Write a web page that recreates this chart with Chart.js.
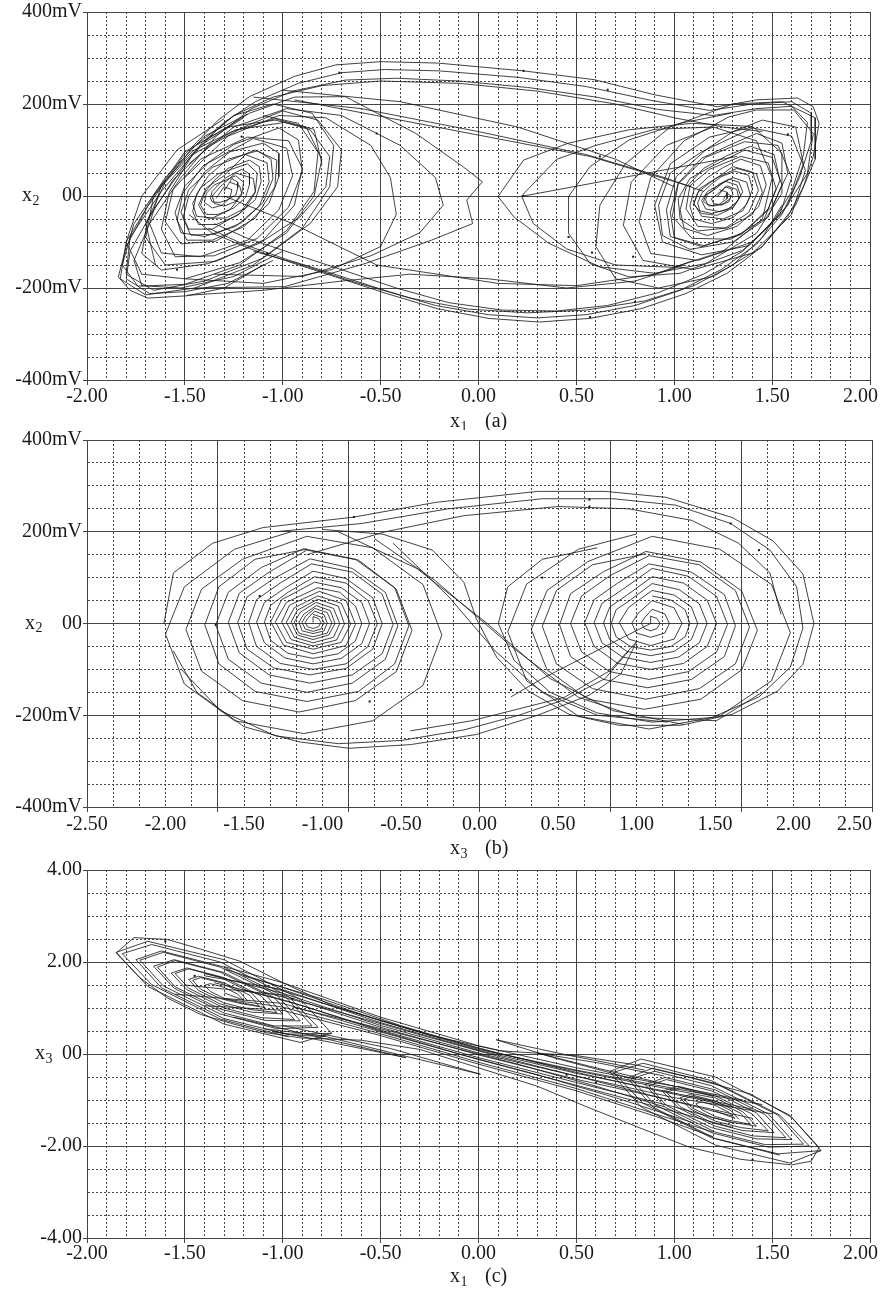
<!DOCTYPE html>
<html><head><meta charset="utf-8">
<script src="https://cdn.jsdelivr.net/npm/chart.js@4/dist/chart.umd.min.js"></script>
<style>
html,body{margin:0;padding:0;background:#fff;}
#wrap{position:relative;width:884px;height:1290px;background:#fff;}
canvas{position:absolute;left:0;}
</style></head><body>
<div id="wrap">
<canvas id="ca" width="884" height="430" style="top:0px"></canvas>
<canvas id="cb" width="884" height="430" style="top:430px"></canvas>
<canvas id="cc" width="884" height="430" style="top:860px"></canvas>
</div>
<script>
// ---------------- tick labels ----------------
const aXTickVals = [-2,-1.5,-1,-0.5,0,0.5,1,1.5,2];
const aXTickLabels = ['-2.00','-1.50','-1.00','-0.50','0.00','0.50','1.00','1.50','2.00'];
const bXTickVals = [-2.5,-2,-1.5,-1,-0.5,0,0.5,1,1.5,2,2.5];
const bXTickLabels = ['-2.50','-2.00','-1.50','-1.00','-0.50','0.00','0.50','1.00','1.50','2.00','2.50'];
const mvTickVals = [-400,-200,0,200,400];
const mvTickLabels = ['-400mV','-200mV','00','200mV','400mV'];
const cYTickVals = [-4,-2,0,2,4];
const cYTickLabels = ['-4.00','-2.00','00','2.00','4.00'];

// ---------------- panel (a): x1 vs x2 [mV] ----------------
const aLeftSpiral1 = [[-1.30,10],[-1.26,38],[-1.23,30],[-1.23,18],[-1.24,2],[-1.28,-8],[-1.32,-14],[-1.36,-13],[-1.37,-4],[-1.36,10],[-1.33,24],
 [-1.29,40],[-1.21,58],[-1.17,48],[-1.17,25],[-1.19,-3],[-1.25,-26],[-1.33,-40],[-1.39,-40],[-1.42,-20],[-1.40,6],[-1.35,34],
 [-1.28,60],[-1.17,78],[-1.12,64],[-1.11,32],[-1.14,-8],[-1.23,-42],[-1.34,-62],[-1.43,-62],[-1.46,-34],[-1.44,4],[-1.38,44],
 [-1.28,80],[-1.13,98],[-1.06,80],[-1.05,38],[-1.10,-14],[-1.21,-58],[-1.35,-83],[-1.47,-85],[-1.51,-48],[-1.48,0],[-1.40,52],
 [-1.27,96],[-1.10,115],[-1.02,93],[-1.02,42],[-1.07,-16],[-1.20,-67],[-1.36,-96],[-1.49,-96],[-1.54,-52],[-1.51,6],[-1.41,64],
 [-1.25,112],[-1.02,148],[-0.92,122],[-0.90,54],[-0.97,-24],[-1.13,-92],[-1.35,-130],[-1.55,-132],[-1.62,-72],[-1.58,8],[-1.46,90],
 [-1.24,144],[-0.99,160],[-0.86,144],[-0.76,86],[-0.78,20],[-0.91,-45],[-1.12,-103],[-1.38,-147],[-1.62,-161],[-1.72,-125],[-1.69,-52],[-1.56,35],[-1.38,107],[-1.20,150],
 [-1.00,185],[-0.82,165],[-0.70,100],[-0.72,20],[-0.86,-60],[-1.10,-135],[-1.40,-185],[-1.66,-205],[-1.80,-170],[-1.78,-90],[-1.62,10],[-1.42,110],[-1.20,170]];
const aLeftSpiral2 = [[-1.34,-5],[-1.30,20],[-1.26,14],[-1.27,-4],[-1.31,-20],[-1.36,-26],[-1.40,-14],[-1.39,6],[-1.35,24],
 [-1.24,44],[-1.20,30],[-1.21,2],[-1.27,-30],[-1.36,-48],[-1.44,-44],[-1.46,-16],[-1.42,18],[-1.33,48],
 [-1.18,70],[-1.13,50],[-1.14,10],[-1.22,-38],[-1.36,-72],[-1.48,-72],[-1.52,-36],[-1.48,14],[-1.36,62],
 [-1.14,100],[-1.03,78],[-1.04,20],[-1.14,-48],[-1.34,-98],[-1.52,-104],[-1.60,-56],[-1.56,14],[-1.42,80],
 [-1.18,128],[-0.97,120],[-0.90,60],[-0.94,-20],[-1.10,-96],[-1.34,-142],[-1.60,-150],[-1.70,-90],[-1.66,0],[-1.50,96],
 [-1.28,150],[-1.04,165],[-0.84,145],[-0.80,70]];
const aLeftSpiral3 = [[-1.27,30],[-1.22,22],[-1.21,6],[-1.24,-12],[-1.30,-22],[-1.35,-16],[-1.36,0],[-1.32,20],
 [-1.24,50],[-1.15,38],[-1.14,8],[-1.19,-26],[-1.29,-48],[-1.39,-48],[-1.43,-20],[-1.39,18],[-1.30,44],
 [-1.19,90],[-1.08,72],[-1.07,30],[-1.12,-22],[-1.24,-66],[-1.40,-88],[-1.52,-80],[-1.55,-36],[-1.50,22],[-1.38,72],
 [-1.15,125],[-0.98,104],[-0.95,44],[-1.02,-30],[-1.18,-96],[-1.42,-132],[-1.62,-124],[-1.68,-60],[-1.62,24],[-1.46,98],[-1.26,140],
 [-1.04,168],[-0.88,150],[-0.80,80],[-0.84,0],[-0.98,-80],[-1.22,-145],[-1.50,-180],[-1.72,-170],[-1.80,-100],[-1.72,0],[-1.54,100],[-1.30,168]];
const aLeftBig1 = [[-1.05,200],[-0.85,180],[-0.74,110],[-0.76,20],[-0.90,-70],[-1.15,-150],[-1.45,-200],[-1.70,-215],[-1.83,-180],[-1.80,-100],[-1.66,0],[-1.46,105],[-1.25,175],[-1.05,200]];
const aLeftBig2 = [[-1.10,175],[-0.92,158],[-0.82,95],[-0.84,10],[-0.98,-75],[-1.22,-150],[-1.50,-192],[-1.74,-196],[-1.82,-150],[-1.76,-60],[-1.60,40],[-1.40,130],[-1.18,178]];
const aRightSpiral1 = [[1.22,-2],[1.26,20],[1.29,16],[1.30,4],[1.28,-8],[1.25,-17],[1.20,-22],[1.17,-18],[1.16,-8],[1.17,4],[1.20,14],
 [1.23,26],[1.28,37],[1.33,30],[1.35,9],[1.32,-13],[1.27,-30],[1.19,-38],[1.13,-32],[1.12,-15],[1.14,6],[1.19,26],
 [1.24,42],[1.31,54],[1.38,45],[1.40,15],[1.37,-18],[1.30,-47],[1.19,-60],[1.10,-50],[1.08,-22],[1.10,12],[1.17,40],
 [1.25,62],[1.34,80],[1.44,66],[1.47,24],[1.43,-24],[1.32,-66],[1.17,-86],[1.05,-70],[1.03,-30],[1.06,18],[1.15,60],
 [1.27,88],[1.39,108],[1.51,90],[1.54,34],[1.48,-28],[1.34,-84],[1.15,-108],[1.00,-90],[0.98,-36],[1.02,28],[1.14,82],
 [1.29,112],[1.42,136],[1.55,115],[1.58,49],[1.50,-23],[1.35,-81],[1.14,-110],[0.98,-88],[0.96,-30],[1.01,42],[1.16,100],
 [1.30,140],[1.45,165],[1.62,150],[1.66,70],[1.58,-20],[1.40,-100],[1.12,-140],[0.88,-125],[0.82,-55],[0.88,40],[1.05,120],
 [1.28,172],[1.42,187],[1.61,187],[1.71,136],[1.68,49],[1.55,-38],[1.35,-118],[1.03,-168],[0.77,-176],[0.57,-147],[0.46,-81],[0.46,-1],[0.57,64],[0.77,122],[1.03,158],[1.29,180]];
const aRightSpiral2 = [[1.25,-8],[1.27,6],[1.29,0],[1.28,-12],[1.24,-20],[1.20,-16],[1.19,-6],[1.22,4],
 [1.27,22],[1.32,14],[1.33,-6],[1.30,-24],[1.23,-34],[1.16,-28],[1.14,-10],[1.17,10],[1.22,22],
 [1.30,40],[1.37,30],[1.39,0],[1.35,-32],[1.25,-50],[1.14,-44],[1.10,-16],[1.13,16],[1.21,38],
 [1.32,60],[1.42,48],[1.45,8],[1.40,-40],[1.27,-70],[1.12,-66],[1.06,-28],[1.08,22],[1.18,58],
 [1.34,86],[1.48,72],[1.52,16],[1.46,-50],[1.29,-94],[1.09,-92],[0.99,-44],[1.02,26],[1.16,84],
 [1.36,118],[1.53,110],[1.60,40],[1.54,-40],[1.38,-108],[1.14,-128],[0.94,-100],[0.90,-20],[0.98,70],[1.18,128],[1.40,150]];
const aRightSpiral3 = [[1.23,14],[1.27,8],[1.27,-6],[1.23,-18],[1.18,-22],[1.15,-12],[1.16,2],[1.20,12],
 [1.26,32],[1.32,24],[1.34,0],[1.30,-26],[1.22,-42],[1.14,-38],[1.10,-18],[1.12,8],[1.18,28],
 [1.30,64],[1.40,52],[1.43,12],[1.38,-36],[1.26,-70],[1.12,-76],[1.03,-50],[1.02,-6],[1.08,38],[1.18,62],
 [1.36,100],[1.50,84],[1.55,24],[1.48,-46],[1.30,-100],[1.08,-116],[0.94,-86],[0.92,-20],[0.98,50],[1.14,96],
 [1.40,148],[1.60,130],[1.67,56],[1.60,-40],[1.40,-124],[1.10,-160],[0.84,-140],[0.74,-64],[0.78,30],[0.96,110],[1.20,150]];
const aRightBig1 = [[1.30,200],[1.55,205],[1.72,170],[1.72,80],[1.62,-20],[1.45,-110],[1.20,-175],[0.92,-200],[0.70,-180],[0.60,-110],[0.62,-20],[0.75,70],[0.98,150],[1.30,200]];
const aOuter1 = [[-1.10,-150],[-1.30,-200],[-1.49,-217],[-1.69,-222],[-1.78,-205],[-1.84,-176],[-1.80,-110],[-1.69,-23],[-1.51,86],[-1.33,165],[-1.17,216],[-0.94,260],[-0.73,285],[-0.50,292],[-0.21,289],[0.23,272],[0.59,253],[0.90,220],[1.22,194],[1.42,209],[1.63,213],[1.71,194],[1.74,158],[1.71,86],[1.66,20],[1.58,-45],[1.45,-110],[1.27,-168],[1.06,-212],[0.83,-245],[0.57,-266],[0.31,-274],[0.05,-266],[-0.21,-245],[-0.47,-212],[-0.73,-176],[-0.94,-147],[-1.17,-114],[-1.36,-81],[-1.48,-40]];
const aOuter2 = [[-1.05,-140],[-1.28,-190],[-1.50,-208],[-1.68,-212],[-1.80,-180],[-1.78,-120],[-1.66,-30],[-1.48,80],[-1.30,160],[-1.14,205],[-0.92,245],[-0.70,268],[-0.48,275],[-0.20,272],[0.20,258],[0.55,238],[0.88,208],[1.18,186],[1.40,200],[1.60,205],[1.70,180],[1.70,120],[1.64,40],[1.55,-40],[1.42,-105],[1.24,-160],[1.03,-205],[0.80,-238],[0.55,-258],[0.30,-265],[0.05,-258],[-0.22,-238],[-0.48,-205],[-0.75,-168],[-0.98,-138],[-1.20,-105],[-1.38,-70]];
const aOuter3 = [[-1.00,-120],[-1.25,-175],[-1.52,-200],[-1.72,-195],[-1.76,-140],[-1.68,-60],[-1.52,40],[-1.34,130],[-1.16,190],[-0.95,228],[-0.68,252],[-0.42,256],[-0.10,250],[0.25,236],[0.60,215],[0.92,188],[1.20,175],[1.42,190],[1.60,195],[1.68,160],[1.66,90],[1.60,10],[1.50,-60],[1.35,-120],[1.15,-170],[0.92,-210],[0.66,-238],[0.40,-250],[0.12,-248],[-0.15,-232],[-0.42,-200],[-0.70,-160],[-0.95,-125],[-1.18,-92],[-1.35,-60]];
const aTopBand = [[-1.40,120],[-1.25,175],[-1.05,215],[-0.80,240],[-0.50,250],[-0.10,245],[0.30,228],[0.70,200],[1.00,170],[1.25,150],[1.45,140]];
const aBottomBand = [[1.55,-20],[1.45,-90],[1.30,-150],[1.10,-195],[0.85,-228],[0.55,-248],[0.25,-254],[-0.05,-246],[-0.35,-222],[-0.65,-185],[-0.90,-150],[-1.15,-120]];
const aLeftExt1 = [[-1.45,-200],[-0.99,-197],[-0.58,-147],[-0.24,-96],[-0.03,-60],[-0.06,-9],[0.02,31],[-0.08,64],[-0.32,136],[-0.68,216],[-0.94,215],[-1.17,180],[-1.40,120],[-1.60,30],[-1.70,-60],[-1.65,-150]];
const aLeftExt2 = [[-1.35,-170],[-0.90,-175],[-0.55,-130],[-0.30,-80],[-0.18,-20],[-0.22,40],[-0.40,110],[-0.70,175],[-0.98,190],[-1.25,150],[-1.48,70]];
const aLeftExt3 = [[-1.50,-180],[-1.10,-190],[-0.75,-160],[-0.50,-110],[-0.42,-40],[-0.45,40],[-0.55,110],[-0.78,170],[-1.02,175],[-1.28,130],[-1.50,40]];
const aRightExt1 = [[0.23,78],[0.10,-1],[0.18,-45],[0.36,-103],[0.62,-154],[0.90,-168],[1.16,-147],[1.42,-81],[1.55,6],[1.55,93],[1.40,151],[1.09,158],[0.77,144],[0.46,115],[0.23,78]];
const aRightExt2 = [[0.40,80],[0.22,0],[0.28,-60],[0.45,-115],[0.70,-150],[1.00,-155],[1.25,-120],[1.45,-50],[1.50,40],[1.42,120],[1.20,150],[0.90,145],[0.60,110],[0.40,80]];
const aCross1 = [[-1.30,0],[-0.95,-60],[-0.52,-150],[0.10,-190],[0.50,-195],[0.90,-170],[1.10,-140]];
const aCross2 = [[-1.15,215],[-0.60,190],[0.00,140],[0.55,90],[0.95,40],[1.15,10]];
const aCross3 = [[-1.00,230],[-0.40,205],[0.20,150],[0.70,80],[1.00,20]];
const aCross4 = [[-1.49,-216],[-1.10,-205],[-0.70,-185],[-0.35,-170],[0.05,-180],[0.45,-200],[0.80,-185],[1.05,-150]];
const aCross5 = [[-0.94,209],[0.57,86],[1.09,20]];
const aStart = [[0.23,0],[1.32,86]];
const aMarks = [[-0.71,268],[0.23,272],[0.66,231],[-0.52,136],[0.57,-263],[0.80,-230],[0.46,-89],[0.58,-123],[0.79,-132],[-0.52,-152],[0.23,0],[1.58,134],[0.62,86],[-1.21,129],[-1.08,-125],[-1.54,-160]];

// ---------------- panel (b): x3 vs x2 [mV] ----------------
const bLeftSpiral1 = [[-1.06,2],
 [-1.06,15],[-1.025,11],[-1.01,2],[-1.025,-7],[-1.06,-11],[-1.095,-7],[-1.11,2],[-1.095,11],
 [-1.05,27],[-0.99,19],[-0.97,1],[-0.99,-16],[-1.06,-22],[-1.13,-16],[-1.15,3],[-1.12,20],
 [-1.04,39],[-0.95,28],[-0.92,0],[-0.96,-25],[-1.06,-35],[-1.16,-25],[-1.20,3],[-1.16,29],
 [-1.03,53],[-0.90,38],[-0.86,-1],[-0.91,-36],[-1.06,-49],[-1.20,-35],[-1.26,3],[-1.21,40],
 [-1.02,70],[-0.85,50],[-0.79,-2],[-0.85,-48],[-1.06,-66],[-1.25,-47],[-1.33,4],[-1.26,52],
 [-1.05,90],[-0.88,78],[-0.75,46],[-0.70,0],[-0.75,-44],[-0.88,-76],[-1.06,-88],[-1.24,-75],[-1.37,-42],[-1.42,3],[-1.37,46],[-1.24,77],
 [-1.06,114],[-0.85,98],[-0.68,56],[-0.62,0],[-0.68,-56],[-0.85,-98],[-1.08,-112],[-1.31,-97],[-1.48,-56],[-1.54,2],[-1.48,58],[-1.31,98],
 [-1.08,141],[-0.81,120],[-0.60,68],[-0.52,-5],[-0.60,-78],[-0.81,-130],[-1.10,-150],[-1.39,-130],[-1.60,-78],[-1.68,-3],[-1.60,68],[-1.39,122],
 [-1.12,163],[-0.79,140],[-0.53,75],[-0.43,-15],[-0.53,-105],[-0.79,-168],[-1.15,-193],[-1.51,-168],[-1.77,-104],[-1.87,-13],[-1.77,75],[-1.51,140],
 [-1.10,190],[-0.68,165],[-0.36,85],[-0.24,-25],[-0.36,-135],[-0.68,-212],[-1.12,-240],[-1.56,-212],[-1.88,-132],[-2.00,-23],[-1.88,80],[-1.56,162],[-1.20,200]];
const bLeftSpiral2 = [[-1.06,20],[-1.01,14],[-0.99,2],[-1.01,-12],[-1.06,-17],[-1.11,-12],[-1.13,2],[-1.11,15],
 [-1.05,33],[-0.97,24],[-0.94,1],[-0.97,-21],[-1.06,-29],[-1.15,-21],[-1.18,3],[-1.14,25],
 [-1.04,46],[-0.93,33],[-0.89,0],[-0.93,-30],[-1.06,-42],[-1.18,-30],[-1.23,3],[-1.18,34],
 [-1.03,60],[-0.88,44],[-0.82,-1],[-0.88,-41],[-1.06,-56],[-1.23,-41],[-1.30,4],[-1.23,46],
 [-1.03,78],[-0.89,68],[-0.79,38],[-0.75,0],[-0.79,-38],[-0.90,-66],[-1.06,-76],[-1.22,-65],[-1.33,-37],[-1.37,3],[-1.33,40],[-1.22,68],
 [-1.05,102],[-0.85,88],[-0.71,50],[-0.65,0],[-0.71,-50],[-0.85,-88],[-1.06,-100],[-1.27,-87],[-1.42,-50],[-1.47,2],[-1.42,52],[-1.27,88],
 [-1.07,130],[-0.81,112],[-0.62,64],[-0.55,-2],[-0.62,-66],[-0.81,-112],[-1.08,-130],[-1.34,-112],[-1.53,-64],[-1.60,2],[-1.53,66],[-1.34,112],
 [-1.10,160],[-0.77,138],[-0.54,78],[-0.45,-5],[-0.54,-88],[-0.77,-148],[-1.10,-170],[-1.43,-148],[-1.66,-88],[-1.75,-3],[-1.66,80],[-1.43,140],[-1.10,162]];
const bRightSpiral1 = [[1.09,0],
 [1.09,16],[1.13,11],[1.15,0],[1.13,-11],[1.09,-16],[1.05,-11],[1.03,1],[1.05,12],
 [1.10,31],[1.18,21],[1.21,0],[1.18,-21],[1.09,-30],[1.00,-21],[0.97,1],[1.01,22],
 [1.10,50],[1.24,34],[1.29,0],[1.24,-34],[1.09,-48],[0.95,-34],[0.89,2],[0.95,35],
 [1.10,72],[1.24,62],[1.35,36],[1.39,0],[1.35,-35],[1.24,-61],[1.09,-70],[0.94,-61],[0.83,-35],[0.79,1],[0.83,36],[0.94,62],
 [1.10,102],[1.30,88],[1.45,51],[1.51,0],[1.45,-50],[1.30,-87],[1.09,-100],[0.88,-87],[0.73,-50],[0.67,2],[0.73,52],[0.88,88],
 [1.08,130],[1.35,112],[1.56,63],[1.63,-5],[1.56,-72],[1.35,-122],[1.07,-140],[0.79,-122],[0.58,-72],[0.51,-3],[0.58,65],[0.79,113],
 [1.06,157],[1.41,134],[1.67,71],[1.77,-15],[1.67,-101],[1.41,-165],[1.05,-187],[0.69,-165],[0.43,-101],[0.33,-13],[0.43,72],[0.69,135],
 [1.10,190],[1.53,162],[1.86,85],[1.98,-20],[1.86,-125],[1.53,-202],[1.08,-230],[0.63,-202],[0.30,-125],[0.18,-18],[0.30,86],[0.63,162],[1.00,195]];
const bRightSpiral2 = [[1.10,60],[1.22,51],[1.31,30],[1.34,0],[1.31,-29],[1.22,-50],[1.09,-58],[0.96,-50],[0.87,-29],[0.84,1],[0.87,30],[0.96,51],
 [1.10,87],[1.27,74],[1.40,43],[1.45,0],[1.40,-42],[1.27,-73],[1.09,-85],[0.91,-73],[0.78,-42],[0.73,2],[0.78,44],[0.91,74],
 [1.10,120],[1.33,103],[1.51,59],[1.58,-2],[1.51,-62],[1.33,-105],[1.08,-122],[0.83,-105],[0.65,-62],[0.58,0],[0.65,60],[0.83,104],
 [1.08,148],[1.40,128],[1.63,72],[1.72,-8],[1.63,-88],[1.40,-142],[1.06,-165],[0.72,-142],[0.49,-88],[0.40,-6],[0.49,72],[0.72,128],[1.06,152]];
const bOuter1 = [[-2.01,0],[-1.95,110],[-1.70,175],[-1.38,209],[-0.80,232],[-0.28,264],[0.37,288],[0.80,288],[1.19,275],[1.61,231],[1.87,180],[2.06,108],[2.13,0],[2.06,-89],[1.90,-147],[1.61,-198],[1.28,-222],[0.89,-222],[0.57,-198],[0.31,-147],[0.11,-74],[-0.02,10],[-0.10,90],[-0.30,160],[-0.62,195],[-1.00,205]];
const bOuter2 = [[-1.95,-60],[-1.80,-150],[-1.50,-225],[-1.15,-258],[-0.83,-272],[-0.44,-264],[-0.02,-242],[0.37,-200],[0.70,-156],[0.90,-110],[1.00,-40]];
const bOuter3 = [[-1.30,200],[-0.75,218],[-0.20,250],[0.40,272],[0.85,272],[1.25,258],[1.60,218],[1.85,160],[2.02,80],[2.06,-10],[1.98,-95],[1.78,-160],[1.48,-205],[1.10,-215],[0.75,-195],[0.45,-150],[0.22,-80],[0.12,0],[0.18,80],[0.40,140],[0.75,165]];
const bOuter4 = [[-1.90,-100],[-1.65,-190],[-1.30,-245],[-0.90,-262],[-0.50,-255],[-0.10,-232],[0.25,-200],[0.55,-165],[0.80,-120],[0.95,-60]];
const bOuter5 = [[-1.10,150],[-0.60,200],[-0.10,235],[0.50,255],[0.95,250],[1.35,225],[1.65,175],[1.85,110],[1.92,20]];
const bCross1 = [[-0.67,185],[-0.28,93],[0.21,-52],[0.63,-161],[1.02,-205],[1.51,-212],[1.80,-150]];
const bCross2 = [[-0.90,200],[-0.40,120],[0.05,0],[0.45,-120],[0.85,-190],[1.30,-220]];
const bCross3 = [[-0.44,-234],[-0.05,-212],[0.54,-161],[0.83,-103],[1.00,-40]];
const bCross4 = [[-0.55,175],[-0.20,60],[0.10,-60],[0.40,-150],[0.75,-200],[1.20,-215]];
const bStart = [[1.09,0],[0.80,-50],[0.40,-120],[0.20,-160]];
const bMarks = [[-0.80,232],[0.70,270],[0.70,255],[1.60,218],[1.78,160],[-1.40,60],[-0.70,-170],[0.20,-145],[0.40,100],[-1.68,-3]];

// ---------------- panel (c): x1 vs x3 ----------------
const cLeftSpiral1 = [[-1.30,1.33],
 [-1.20,1.17],[-1.23,1.30],[-1.30,1.45],[-1.37,1.53],[-1.40,1.49],[-1.37,1.36],[-1.30,1.21],[-1.23,1.13],
 [-1.12,1.04],[-1.17,1.28],[-1.30,1.55],[-1.43,1.69],[-1.48,1.62],[-1.43,1.38],[-1.30,1.11],[-1.17,0.97],
 [-1.03,0.90],[-1.11,1.26],[-1.30,1.66],[-1.49,1.87],[-1.57,1.76],[-1.49,1.40],[-1.30,1.00],[-1.11,0.79],
 [-0.94,0.75],[-1.045,1.23],[-1.30,1.77],[-1.555,2.05],[-1.66,1.91],[-1.555,1.43],[-1.30,0.89],[-1.045,0.61],
 [-0.85,0.61],[-0.98,1.22],[-1.30,1.89],[-1.62,2.24],[-1.75,2.05],[-1.62,1.44],[-1.30,0.77],[-0.98,0.43],
 [-0.75,0.45],[-0.91,1.19],[-1.30,2.05],[-1.69,2.45],[-1.85,2.21],[-1.69,1.47],[-1.30,0.65],[-0.91,0.25],[-0.75,0.45]];
const cLeftSpiral2 = [[-1.18,1.16],[-1.22,1.35],[-1.32,1.555],[-1.42,1.66],[-1.46,1.60],[-1.42,1.41],[-1.32,1.205],[-1.22,1.10],
 [-1.09,1.01],[-1.16,1.33],[-1.32,1.67],[-1.48,1.85],[-1.55,1.75],[-1.48,1.43],[-1.32,1.09],[-1.16,0.91],
 [-1.00,0.87],[-1.09,1.30],[-1.32,1.78],[-1.55,2.03],[-1.64,1.89],[-1.55,1.46],[-1.32,0.98],[-1.09,0.73],
 [-0.91,0.72],[-1.03,1.28],[-1.32,1.89],[-1.61,2.21],[-1.73,2.04],[-1.61,1.48],[-1.32,0.87],[-1.03,0.55],
 [-0.82,0.58],[-0.97,1.25],[-1.32,2.00],[-1.67,2.38],[-1.82,2.18],[-1.67,1.51],[-1.32,0.76],[-0.97,0.37]];
const cRightSpiral1 = [[1.21,-1.24],
 [1.31,-1.40],[1.28,-1.27],[1.21,-1.12],[1.14,-1.04],[1.11,-1.08],[1.14,-1.21],[1.21,-1.36],[1.28,-1.44],
 [1.39,-1.53],[1.34,-1.29],[1.21,-1.02],[1.08,-0.88],[1.03,-0.95],[1.08,-1.19],[1.21,-1.46],[1.34,-1.60],
 [1.48,-1.67],[1.40,-1.31],[1.21,-0.91],[1.02,-0.70],[0.94,-0.81],[1.02,-1.17],[1.21,-1.57],[1.40,-1.78],
 [1.57,-1.82],[1.465,-1.32],[1.21,-0.78],[0.955,-0.51],[0.85,-0.66],[0.955,-1.16],[1.21,-1.70],[1.465,-1.97],
 [1.66,-1.96],[1.53,-1.33],[1.21,-0.64],[0.89,-0.31],[0.76,-0.52],[0.89,-1.15],[1.21,-1.84],[1.53,-2.17],
 [1.75,-2.10],[1.59,-1.33],[1.21,-0.50],[0.83,-0.11],[0.67,-0.38],[0.83,-1.15],[1.21,-1.98],[1.59,-2.37],[1.75,-2.10]];
const cRightSpiral2 = [[1.33,-1.42],[1.29,-1.23],[1.19,-1.025],[1.09,-0.92],[1.05,-0.98],[1.09,-1.17],[1.19,-1.375],[1.29,-1.48],
 [1.42,-1.57],[1.35,-1.255],[1.19,-0.91],[1.03,-0.735],[0.96,-0.83],[1.03,-1.145],[1.19,-1.49],[1.35,-1.665],
 [1.51,-1.71],[1.42,-1.28],[1.19,-0.80],[0.96,-0.555],[0.87,-0.69],[0.96,-1.12],[1.19,-1.60],[1.42,-1.845],
 [1.60,-1.86],[1.48,-1.30],[1.19,-0.69],[0.90,-0.375],[0.78,-0.54],[0.90,-1.10],[1.19,-1.71],[1.48,-2.025],
 [1.69,-2.00],[1.54,-1.33],[1.19,-0.58],[0.84,-0.20],[0.69,-0.40],[0.84,-1.07],[1.19,-1.82],[1.54,-2.20]];
const cBand1 = [[-1.30,1.90],[-1.00,1.55],[-0.50,0.80],[0.00,0.18],[0.50,-0.30],[1.00,-0.70],[1.35,-1.00]];
const cBand2 = [[-1.40,1.70],[-1.00,1.40],[-0.50,0.68],[0.00,0.08],[0.50,-0.42],[1.00,-0.85],[1.40,-1.20]];
const cBand3 = [[-1.50,1.50],[-1.00,1.28],[-0.50,0.58],[0.00,-0.02],[0.50,-0.55],[1.00,-1.02],[1.40,-1.40]];
const cBand4 = [[-1.55,1.30],[-1.00,1.10],[-0.50,0.48],[0.00,-0.12],[0.50,-0.68],[1.00,-1.25],[1.30,-1.60]];
const cBand5 = [[-1.40,1.05],[-1.00,0.95],[-0.50,0.40],[0.00,-0.22],[0.50,-0.80],[0.90,-1.35],[1.20,-1.80]];
const cBand6 = [[1.45,-1.10],[1.00,-0.75],[0.50,-0.35],[0.00,0.10],[-0.50,0.72],[-1.00,1.45],[-1.30,1.85]];
const cBand7 = [[1.50,-1.30],[1.00,-0.95],[0.50,-0.48],[0.00,0.02],[-0.50,0.62],[-1.00,1.32],[-1.40,1.75]];
const cBand8 = [[1.30,-1.50],[1.00,-1.15],[0.50,-0.62],[0.00,-0.08],[-0.50,0.52],[-1.00,1.18],[-1.35,1.55]];
const cBand9 = [[1.20,-1.70],[0.90,-1.30],[0.50,-0.75],[0.00,-0.18],[-0.50,0.44],[-1.00,1.02],[-1.30,1.20]];
const cBand10 = [[-1.20,1.70],[-0.80,1.20],[-0.40,0.62],[0.00,0.12],[0.40,-0.28],[0.80,-0.62],[1.20,-0.95]];
const cBand11 = [[-1.10,1.35],[-0.70,0.90],[-0.30,0.42],[0.10,-0.05],[0.50,-0.48],[0.90,-0.92],[1.30,-1.35]];
const cBand12 = [[1.30,-1.15],[0.90,-0.78],[0.50,-0.40],[0.10,0.02],[-0.30,0.48],[-0.70,0.98],[-1.10,1.50]];
const cBand13 = [[1.10,-1.50],[0.70,-0.95],[0.30,-0.45],[-0.10,0.00],[-0.50,0.50],[-0.90,1.05],[-1.20,1.40]];
const cBand14 = [[-0.95,1.02],[-0.60,0.66],[-0.20,0.22],[0.20,-0.22],[0.60,-0.70],[0.95,-1.15]];
const cOuter = [[-1.85,2.20],[-1.76,2.53],[-1.59,2.49],[-1.42,2.28],[-1.22,2.02],[-1.00,1.55],[-0.74,1.04],[-0.49,0.72],[-0.23,0.39],[0.11,0.07],[0.51,-0.04],[0.82,-0.25],[1.08,-0.51],[1.39,-0.87],[1.60,-1.38],[1.74,-2.03],[1.70,-2.33],[1.60,-2.41],[1.34,-2.29],[1.08,-2.03],[0.82,-1.60],[0.56,-1.16],[0.30,-0.70],[0.00,-0.30],[-0.30,0.10],[-0.60,0.30],[-0.91,0.35],[-1.08,0.46],[-1.25,0.65],[-1.42,0.86],[-1.59,1.22],[-1.73,1.66],[-1.83,2.10],[-1.85,2.20]];
const cSpike1 = [[-1.25,0.80],[-0.80,0.35],[-0.37,-0.08],[-0.75,0.25],[-1.05,0.50]];
const cSpike2 = [[-1.00,0.62],[-0.45,0.12],[0.01,-0.44],[-0.40,-0.02],[-0.80,0.40]];
const cSpike3 = [[-1.10,0.55],[-0.90,0.45],[-0.78,0.39],[-0.92,0.40],[-1.05,0.48]];
const cSpike4 = [[0.80,-0.55],[0.40,-0.10],[0.09,0.31],[0.45,-0.02],[0.85,-0.35]];
const cSpike5 = [[1.00,-0.70],[0.60,-0.30],[0.30,0.02],[0.62,-0.20],[0.95,-0.48]];
const cMarks = [[-1.60,2.45],[-1.45,1.70],[0.45,-0.45],[1.40,-2.30],[1.50,-2.15],[-0.95,1.20],[0.60,-0.62]];

// ---------------- rendering ----------------
const FAMILY = '"Liberation Serif","Times New Roman",serif';
const GRID = '#444';
const LINE = 'rgba(25,25,25,0.82)';
const TXT = '#1a1a1a';

function gridTicks(min, max, step, majorEvery) {
  const arr = [];
  const n = Math.round((max - min) / step);
  for (let i = 0; i <= n; i++) arr.push({ value: min + i * step, isMaj: i % majorEvery === 0 });
  return arr;
}
function pts(list) { return list.map(p => ({ x: p[0], y: p[1] })); }

function drawVar(ctx, sub, x, y) {
  ctx.font = '20px ' + FAMILY;
  ctx.fillText('x', x, y);
  const w = ctx.measureText('x').width;
  ctx.font = '14px ' + FAMILY;
  ctx.fillText(sub, x + w + 0.5, y + 5);
  ctx.font = '20px ' + FAMILY;
}

function textPlugin(p) {
  return {
    id: 'panelText',
    afterDraw(chart) {
      const ctx = chart.ctx, xs = chart.scales.x, ys = chart.scales.y, ca = chart.chartArea;
      ctx.save();
      ctx.fillStyle = TXT;
      ctx.font = '20px ' + FAMILY;
      ctx.textBaseline = 'middle';
      ctx.textAlign = 'center';
      const ly = ca.bottom + p.labelDy;
      p.xVals.forEach((v, i) => {
        const t = p.xTexts[i];
        const w = ctx.measureText(t).width;
        let cx = xs.getPixelForValue(v);
        if (cx + w / 2 > p.clampRight) cx = p.clampRight - w / 2;
        ctx.fillText(t, cx, ly);
      });
      ctx.textAlign = 'left';
      const ty = ca.bottom + p.titleDy;
      drawVar(ctx, p.xSub, 450, ty);
      ctx.fillText(p.tag, 485, ty);
      drawVar(ctx, p.ySub, p.yTitleX, ys.getPixelForValue(0));
      ctx.restore();
    }
  };
}

function makePanel(id, p) {
  const datasets = p.lines.map(l => ({
    data: pts(l), showLine: true, borderColor: LINE, borderWidth: 1,
    pointRadius: 0, fill: false, tension: 0
  }));
  datasets.push({ data: pts(p.marks), showLine: false, pointRadius: 1.4, pointStyle: 'rect',
    backgroundColor: '#111', borderWidth: 0 });
  const xt = gridTicks(p.xMin, p.xMax, p.xStep, p.xMajEvery);
  const yt = gridTicks(p.yMin, p.yMax, p.yStep, p.yMajEvery);
  const dash = c => (c.type === 'tick' && c.tick && !c.tick.isMaj) ? [2, 2] : [];
  const tickCol = c => (c.tick && c.tick.isMaj) ? GRID : 'rgba(0,0,0,0)';
  new Chart(document.getElementById(id), {
    type: 'scatter',
    data: { datasets },
    options: {
      responsive: false, animation: false, events: [],
      layout: { padding: { top: p.padTop, right: p.padRight, bottom: 0, left: 0 } },
      plugins: { legend: { display: false }, tooltip: { enabled: false } },
      scales: {
        x: {
          type: 'linear', min: p.xMin, max: p.xMax,
          afterBuildTicks: s => { s.ticks = xt.map(t => ({ value: t.value, isMaj: t.isMaj })); },
          afterFit: s => { s.height = p.xAxisH; s.paddingLeft = 0; s.paddingRight = 0; },
          ticks: { display: false, autoSkip: false },
          grid: { color: GRID, lineWidth: 1, tickLength: 5, tickColor: tickCol, drawTicks: true },
          border: { display: true, color: GRID, width: 1, dash: dash }
        },
        y: {
          type: 'linear', min: p.yMin, max: p.yMax,
          afterBuildTicks: s => { s.ticks = yt.map(t => ({ value: t.value, isMaj: t.isMaj })); },
          afterFit: s => { s.width = 87; s.paddingTop = 0; s.paddingBottom = 0; },
          ticks: {
            autoSkip: false, padding: 1, color: TXT,
            font: { family: FAMILY, size: 20 },
            callback: (v) => {
              const k = p.yVals.findIndex(q => Math.abs(q - v) < 1e-6);
              return k >= 0 ? p.yTexts[k] : '';
            }
          },
          grid: { color: GRID, lineWidth: 1, tickLength: 4, tickColor: tickCol, drawTicks: true },
          border: { display: true, color: GRID, width: 1, dash: dash }
        }
      }
    },
    plugins: [textPlugin(p)]
  });
}

makePanel('ca', {
  lines: [aLeftSpiral1, aLeftSpiral2, aLeftSpiral3, aLeftBig1, aLeftBig2, aRightSpiral1, aRightSpiral2, aRightSpiral3, aRightBig1,
          aOuter1, aOuter2, aOuter3, aTopBand, aBottomBand,
          aLeftExt1, aLeftExt2, aLeftExt3, aRightExt1, aRightExt2, aCross1, aCross2, aCross3, aCross4, aCross5, aStart],
  marks: aMarks,
  xMin: -2, xMax: 2, xStep: 0.1, xMajEvery: 5,
  yMin: -400, yMax: 400, yStep: 50, yMajEvery: 4,
  yVals: mvTickVals, yTexts: mvTickLabels,
  xVals: aXTickVals, xTexts: aXTickLabels,
  padTop: 12, padRight: 14, xAxisH: 50,
  labelDy: 17, titleDy: 42, clampRight: 878,
  xSub: '1', tag: '(a)', ySub: '2', yTitleX: 22
});
makePanel('cb', {
  lines: [bLeftSpiral1, bLeftSpiral2, bRightSpiral1, bRightSpiral2, bOuter1, bOuter2, bOuter3, bOuter4, bOuter5,
          bCross1, bCross2, bCross3, bCross4, bStart],
  marks: bMarks,
  xMin: -2.5, xMax: 2.5, xStep: 1 / 6, xMajEvery: 5,
  yMin: -400, yMax: 400, yStep: 50, yMajEvery: 4,
  yVals: mvTickVals, yTexts: mvTickLabels,
  xVals: bXTickVals, xTexts: bXTickLabels,
  padTop: 10, padRight: 12, xAxisH: 53,
  labelDy: 18, titleDy: 42, clampRight: 872,
  xSub: '3', tag: '(b)', ySub: '2', yTitleX: 25
});
makePanel('cc', {
  lines: [cLeftSpiral1, cLeftSpiral2, cRightSpiral1, cRightSpiral2, cOuter, cBand1, cBand2, cBand3, cBand4, cBand5,
          cBand6, cBand7, cBand8, cBand9, cBand10, cBand11, cBand12, cBand13, cBand14,
          cSpike1, cSpike2, cSpike3, cSpike4, cSpike5],
  marks: cMarks,
  xMin: -2, xMax: 2, xStep: 0.1, xMajEvery: 5,
  yMin: -4, yMax: 4, yStep: 0.5, yMajEvery: 4,
  yVals: cYTickVals, yTexts: cYTickLabels,
  xVals: aXTickVals, xTexts: aXTickLabels,
  padTop: 10, padRight: 14, xAxisH: 52,
  labelDy: 16, titleDy: 39, clampRight: 878,
  xSub: '1', tag: '(c)', ySub: '3', yTitleX: 35
});
</script>
</body></html>
